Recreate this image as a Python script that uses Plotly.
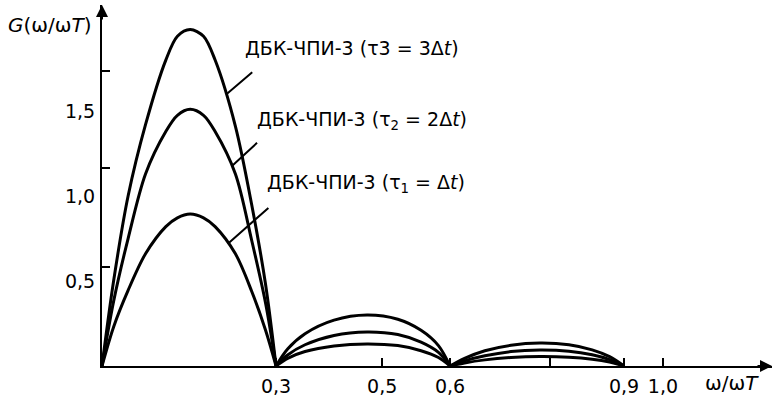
import plotly.graph_objects as go

# Frequency grid of each lobe (ω/ωT)
lobe1_x = [0, 0.02, 0.045, 0.075, 0.11, 0.13, 0.152, 0.175, 0.195, 0.23, 0.258, 0.282, 0.3]
lobe2_x = [0.3, 0.32, 0.35, 0.4, 0.457, 0.51, 0.55, 0.58, 0.6]
lobe3_x = [0.6, 0.625, 0.66, 0.705, 0.755, 0.805, 0.845, 0.875, 0.9]

# G(ω/ωT) for τ3 = 3Δt
g3_lobe1 = [0, 0.5, 1.0, 1.42, 1.80, 1.94, 1.98, 1.94, 1.80, 1.41, 0.95, 0.48, 0]
g3_lobe2 = [0, 0.1, 0.19, 0.27, 0.30, 0.275, 0.21, 0.12, 0]
g3_lobe3 = [0, 0.045, 0.09, 0.122, 0.135, 0.125, 0.095, 0.055, 0]

# G(ω/ωT) for τ2 = 2Δt
g2_lobe1 = [0, 0.38, 0.75, 1.13, 1.38, 1.475, 1.51, 1.475, 1.38, 1.13, 0.74, 0.37, 0]
g2_lobe2 = [0, 0.065, 0.125, 0.18, 0.20, 0.185, 0.14, 0.08, 0]
g2_lobe3 = [0, 0.03, 0.06, 0.085, 0.094, 0.087, 0.066, 0.038, 0]

# G(ω/ωT) for τ1 = Δt
g1_lobe1 = [0, 0.23, 0.445, 0.66, 0.82, 0.872, 0.894, 0.872, 0.82, 0.66, 0.44, 0.21, 0]
g1_lobe2 = [0, 0.045, 0.085, 0.118, 0.13, 0.12, 0.09, 0.05, 0]
g1_lobe3 = [0, 0.018, 0.036, 0.05, 0.056, 0.052, 0.04, 0.023, 0]

# Axis ticks
x_tick_vals = [0.3, 0.483, 0.6, 0.772, 0.9, 0.967]
x_tick_text = ["0,3", "0,5", "0,6", "", "0,9", "1,0"]
y_label_vals = [0.5, 1.0, 1.5]
y_label_text = ["0,5", "1,0", "1,5"]
y_mark_vals = [0.582, 1.165, 1.735]

labels = [
    "ДБК-ЧПИ-3 (τ3 = 3Δ<i>t</i>)",
    "ДБК-ЧПИ-3 (τ<sub>2</sub> = 2Δ<i>t</i>)",
    "ДБК-ЧПИ-3 (τ<sub>1</sub> = Δ<i>t</i>)",
]

X_MAX = 1.155
Y_MAX = 2.124
FONT = "DejaVu Sans"
INK = "#000000"


def joined(*parts):
    out = []
    for i, p in enumerate(parts):
        if i:
            out.append(None)
        out.extend(p)
    return out


xs = joined(lobe1_x, lobe2_x, lobe3_x)
series = [
    joined(g3_lobe1, g3_lobe2, g3_lobe3),
    joined(g2_lobe1, g2_lobe2, g2_lobe3),
    joined(g1_lobe1, g1_lobe2, g1_lobe3),
]

fig = go.Figure()
for ys in series:
    fig.add_trace(go.Scatter(
        x=xs, y=ys, mode="lines", connectgaps=False,
        line=dict(color=INK, width=3, shape="spline", smoothing=0.9),
        hoverinfo="skip", showlegend=False,
    ))

# invisible trace to carry the tick-only axis
fig.add_trace(go.Scatter(x=[0], y=[0], yaxis="y2", mode="markers",
                         marker=dict(opacity=0), hoverinfo="skip",
                         showlegend=False))

fig.update_layout(
    width=774, height=399,
    margin=dict(l=102, r=2, t=5, b=33),
    paper_bgcolor="white", plot_bgcolor="white",
    font=dict(family=FONT, size=19, color=INK),
    xaxis=dict(
        range=[0, X_MAX], showgrid=False, zeroline=False,
        showline=True, linecolor=INK, linewidth=2,
        tickmode="array", tickvals=x_tick_vals, ticktext=x_tick_text,
        ticks="inside", ticklen=8, tickwidth=2, tickcolor=INK,
        ticklabelstandoff=2,
    ),
    yaxis=dict(
        range=[0, Y_MAX], showgrid=False, zeroline=False,
        showline=True, linecolor=INK, linewidth=2,
        tickmode="array", tickvals=y_label_vals, ticktext=y_label_text,
        ticks="", ticklabelstandoff=1,
    ),
    yaxis2=dict(
        range=[0, Y_MAX], overlaying="y", side="left", anchor="x",
        showgrid=False, zeroline=False, showline=False,
        tickmode="array", tickvals=y_mark_vals, showticklabels=False,
        ticks="inside", ticklen=8, tickwidth=2, tickcolor=INK,
    ),
)

annotations = []
# axis arrowheads
annotations.append(dict(x=X_MAX, y=0, xref="x", yref="y", ax=-16, ay=0,
                        showarrow=True, arrowhead=2, arrowsize=1.2,
                        arrowwidth=2, arrowcolor=INK, text="", standoff=0))
annotations.append(dict(x=0, y=Y_MAX, xref="x", yref="y", ax=0, ay=16,
                        showarrow=True, arrowhead=2, arrowsize=1.2,
                        arrowwidth=2, arrowcolor=INK, text="", standoff=0))
# axis titles
annotations.append(dict(x=-0.0776, y=0.9446, xref="paper", yref="paper",
                        text="<i>G</i>(ω/ω<i>T</i>)", showarrow=False,
                        xanchor="center", yanchor="middle",
                        font=dict(size=20)))
annotations.append(dict(x=0.94, y=-0.047, xref="paper", yref="paper",
                        text="ω/ω<i>T</i>", showarrow=False,
                        xanchor="center", yanchor="middle",
                        font=dict(size=20)))

# curve labels and leader lines
label_pos = [(0.243, 1.87), (0.264, 1.447), (0.281, 1.076)]
leader_heads = [(0.215, 1.6), (0.225, 1.18), (0.217, 0.72)]
leader_tails = [(27, -23), (26, -24), (42, -37)]
for text, (lx, ly), (hx, hy), (ax, ay) in zip(labels, label_pos,
                                               leader_heads, leader_tails):
    annotations.append(dict(x=lx, y=ly, xref="x", yref="y", text=text,
                            showarrow=False, xanchor="left",
                            yanchor="middle"))
    annotations.append(dict(x=hx, y=hy, xref="x", yref="y", text="",
                            showarrow=True, arrowhead=0, arrowwidth=2,
                            arrowcolor=INK, ax=ax, ay=ay, standoff=0))

fig.update_layout(annotations=annotations)
fig.write_html("out.html")
